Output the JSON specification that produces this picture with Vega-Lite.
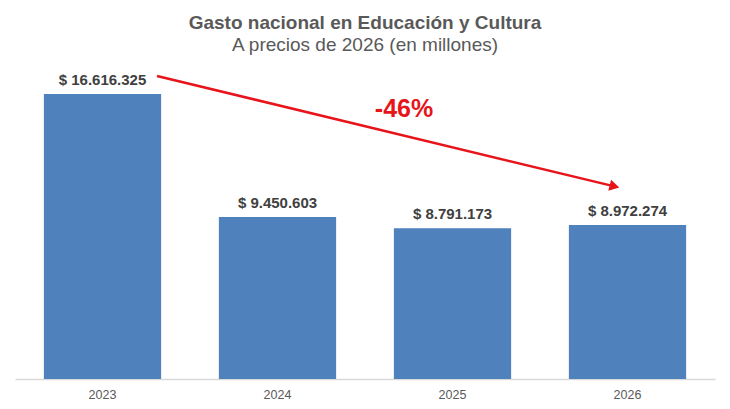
{
  "$schema": "https://vega.github.io/schema/vega-lite/v6.json",
  "width": 700,
  "height": 319,
  "autosize": "none",
  "padding": {"left": 15, "right": 15, "top": 60, "bottom": 30},
  "config": {
    "view": {"stroke": null},
    "font": "Liberation Sans",
    "locale": {
      "number": {"decimal": ",", "thousands": ".", "grouping": [3], "currency": ["$ ", ""]}
    }
  },
  "title": {
    "text": "Gasto nacional en Educación y Cultura",
    "subtitle": "A precios de 2026 (en millones)",
    "anchor": "middle",
    "fontSize": 19,
    "fontWeight": "bold",
    "color": "#595959",
    "subtitleFontSize": 19,
    "subtitleColor": "#595959",
    "subtitlePadding": 3,
    "offset": 5
  },
  "layer": [
    {
      "data": {
        "values": [
          {"anio": "2023", "gasto": 16616325},
          {"anio": "2024", "gasto": 9450603},
          {"anio": "2025", "gasto": 8791173},
          {"anio": "2026", "gasto": 8972274}
        ]
      },
      "encoding": {
        "x": {
          "field": "anio", "type": "nominal", "title": null,
          "scale": {"domain": ["2023", "2024", "2025", "2026"], "paddingInner": 0.33, "paddingOuter": 0.165},
          "axis": {
            "labelAngle": 0, "ticks": false, "tickSize": 0, "labelPadding": 9,
            "labelFontSize": 12.5, "labelColor": "#595959",
            "domainColor": "#D9D9D9", "domainWidth": 1.5, "grid": false
          }
        },
        "y": {
          "field": "gasto", "type": "quantitative",
          "scale": {"domain": [0, 18600000], "nice": false},
          "axis": null
        }
      },
      "layer": [
        {"mark": {"type": "bar", "color": "#4F81BD"}},
        {
          "mark": {"type": "text", "baseline": "alphabetic", "dy": -9, "fontSize": 15, "fontWeight": "bold", "color": "#404040"},
          "encoding": {"text": {"field": "gasto", "type": "quantitative", "format": "$,.0f"}}
        }
      ]
    },
    {
      "data": {"values": [{"desde": "2023", "hasta": "2026", "v1": 17670000, "v2": 11230000}]},
      "mark": {"type": "rule", "color": "#E8141B", "strokeWidth": 2.5, "xOffset": 54.5, "x2Offset": -13},
      "encoding": {
        "x": {"field": "desde", "type": "nominal"},
        "x2": {"field": "hasta"},
        "y": {"field": "v1", "type": "quantitative"},
        "y2": {"field": "v2"}
      }
    },
    {
      "data": {"values": [{"anio": "2026", "v": 11230000}]},
      "mark": {"type": "point", "shape": "triangle-right", "filled": true, "opacity": 1, "color": "#E8141B", "size": 130, "angle": 13.6, "xOffset": -13},
      "encoding": {
        "x": {"field": "anio", "type": "nominal"},
        "y": {"field": "v", "type": "quantitative"}
      }
    },
    {
      "data": {"values": [{"anio": "2025", "v": 15280000, "etiqueta": "-46%"}]},
      "mark": {"type": "text", "baseline": "alphabetic", "dx": -48.5, "fontSize": 25, "fontWeight": "bold", "color": "#E8141B"},
      "encoding": {
        "x": {"field": "anio", "type": "nominal"},
        "y": {"field": "v", "type": "quantitative"},
        "text": {"field": "etiqueta"}
      }
    }
  ]
}
